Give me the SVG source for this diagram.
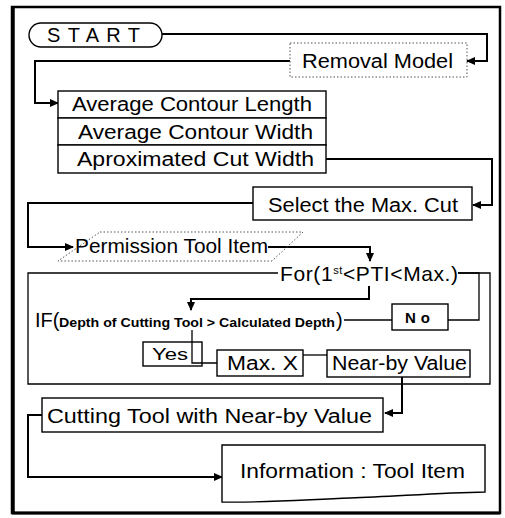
<svg xmlns="http://www.w3.org/2000/svg" width="505" height="518" viewBox="0 0 505 518">
<style>
text{font-family:"Liberation Sans",Arial,sans-serif;fill:#000}
.t{font-size:20px}
.box{fill:#fff;stroke:#000;stroke-width:1.4}
.dot{fill:none;stroke:#555;stroke-width:1;stroke-dasharray:1.5 2}
.con{fill:none;stroke:#000;stroke-width:2}
.thin{fill:none;stroke:#000;stroke-width:1.3}
</style>
<defs>
<marker id="ah" markerUnits="userSpaceOnUse" markerWidth="9" markerHeight="8" refX="8" refY="4" orient="auto">
<path d="M0,0 L9,4 L0,8 z" fill="#000"/>
</marker>
</defs>
<rect width="505" height="518" fill="#fff"/>
<g id="frame">
<rect x="12" y="7" width="488" height="506" fill="none" stroke="#000" stroke-width="2.5"/>
<line x1="13" y1="7" x2="13" y2="514" stroke="#000" stroke-width="3.5"/>
<line x1="12" y1="513" x2="500" y2="513" stroke="#000" stroke-width="3"/>
</g>
<g id="connectors">
<path class="con" d="M162,34 H487 V61 H467" marker-end="url(#ah)"/>
<path class="con" d="M290,61 H35 V103 H58" marker-end="url(#ah)"/>
<path class="con" d="M326,159 H492 V205 H473" marker-end="url(#ah)"/>
<path class="con" d="M253,203 H28 V247 H73" marker-end="url(#ah)"/>
<path class="con" d="M268,247 H370 V261" marker-end="url(#ah)"/>
<path class="con" d="M369,286 V299 H191 V310" marker-end="url(#ah)"/>
<path class="thin" d="M458,273 H479 V320 H448"/>
<path class="thin" d="M392,320 H344"/>
<path class="thin" d="M192,330 V363 H217"/>
<path class="thin" d="M303,355 H327"/>
<path class="con" d="M402,377 V413 H385" marker-end="url(#ah)"/>
<path class="con" d="M42,415 H28 V477 H222" marker-end="url(#ah)"/>
</g>
<g id="start">
<rect x="29" y="23" width="133" height="24" rx="12" ry="12" class="box"/>
<text x="47" y="42" font-size="20" textLength="93" lengthAdjust="spacing">START</text>
</g>
<g id="removal">
<rect x="290" y="43" width="177" height="34" class="dot"/>
<text x="302" y="68" class="t" textLength="151" lengthAdjust="spacingAndGlyphs">Removal Model</text>
</g>
<g id="average">
<rect x="58" y="91" width="268" height="27" class="box"/>
<rect x="58" y="118" width="268" height="27" class="box"/>
<rect x="58" y="145" width="268" height="28" class="box"/>
<text x="72" y="111" class="t" textLength="240" lengthAdjust="spacingAndGlyphs">Average Contour Length</text>
<text x="78" y="139" class="t" textLength="235" lengthAdjust="spacingAndGlyphs">Average Contour Width</text>
<text x="77" y="166" class="t" textLength="237" lengthAdjust="spacingAndGlyphs">Aproximated Cut Width</text>
</g>
<g id="select">
<rect x="253" y="187" width="219" height="33" class="box"/>
<text x="268" y="212" class="t" textLength="190" lengthAdjust="spacingAndGlyphs">Select the Max. Cut</text>
</g>
<g id="permission">
<path class="dot" d="M100,232 H303 L272,261 H58 Z"/>
<text x="75" y="253" class="t" textLength="193" lengthAdjust="spacingAndGlyphs">Permission Tool Item</text>
</g>
<g id="loop">
<path class="thin" d="M278,273 H28 V384 H490 V273 H458"/>
<text x="280" y="281" font-size="21" letter-spacing="0.6">For(1<tspan font-size="11" dy="-7">st</tspan><tspan dy="7">&lt;PTI&lt;Max.)</tspan></text>
</g>
<g id="if">
<text x="35" y="327" font-size="20">IF(</text>
<text x="59" y="327" font-size="12.5" font-weight="bold" textLength="276" lengthAdjust="spacingAndGlyphs">Depth of Cutting Tool &gt; Calculated Depth</text>
<text x="336" y="327" font-size="20">)</text>
</g>
<g id="no">
<rect x="392" y="304" width="56" height="26" class="box"/>
<text x="420" y="323" font-size="15" font-weight="bold" text-anchor="middle" letter-spacing="5">No</text>
</g>
<g id="yes">
<rect x="143" y="342" width="59" height="24" class="box" fill="none" style="fill:none"/>
<text x="152" y="360" font-size="16" textLength="36" lengthAdjust="spacingAndGlyphs">Yes</text>
</g>
<g id="maxx">
<rect x="217" y="350" width="86" height="26" class="box"/>
<text x="227" y="370" class="t" textLength="71" lengthAdjust="spacingAndGlyphs">Max. X</text>
</g>
<g id="nearby">
<rect x="327" y="350" width="143" height="27" class="box"/>
<text x="332" y="370" class="t" textLength="135" lengthAdjust="spacingAndGlyphs">Near-by Value</text>
</g>
<g id="cutting">
<rect x="42" y="398" width="341" height="34" class="box"/>
<text x="47" y="423" class="t" textLength="325" lengthAdjust="spacingAndGlyphs">Cutting Tool with Near-by Value</text>
</g>
<g id="information">
<path class="box" d="M222,445 H485 V492 C440,493 400,496 350,498 C300,500 260,503 222,502 Z"/>
<text x="240" y="478" class="t" textLength="225" lengthAdjust="spacingAndGlyphs">Information : Tool Item</text>
</g>
</svg>
